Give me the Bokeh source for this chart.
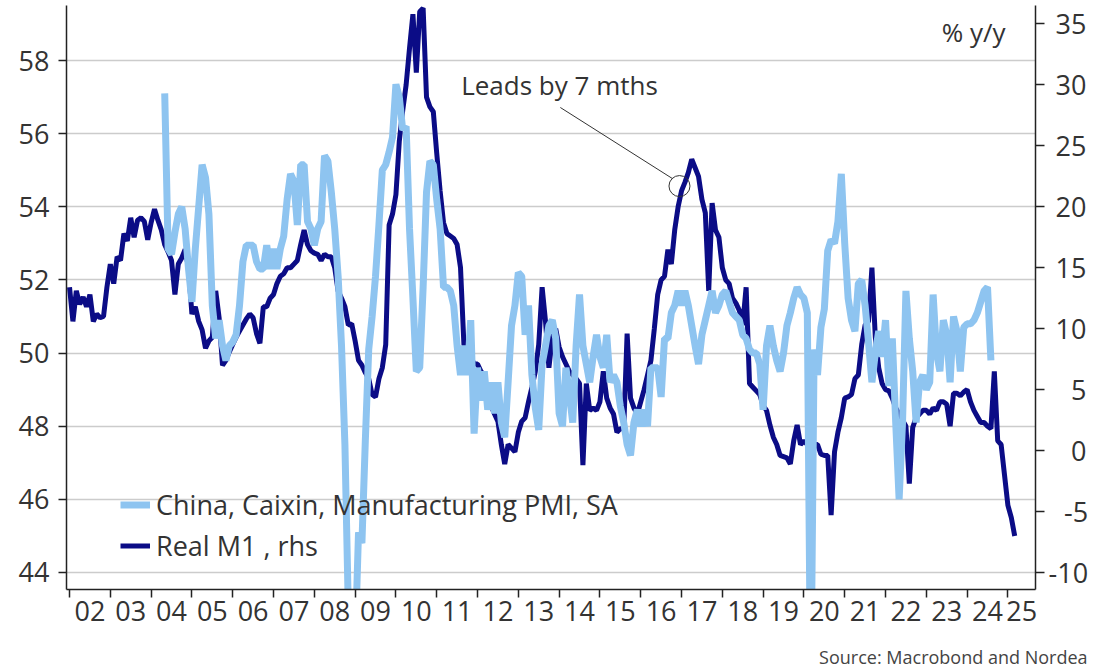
from bokeh.plotting import figure
from bokeh.models import (Range1d, LinearAxis, FixedTicker, Label, Legend, LegendItem,
                          Arrow, ColumnDataSource, Title)
from bokeh.embed import file_html
from bokeh.resources import INLINE

# ---------------- data (monthly, plotted at month end) ----------------
pmi_name = "China, Caixin, Manufacturing PMI, SA"
m1_name = "Real M1 , rhs"
pmi_start = (2004, 4)
pmi_values = [
    57.1, 52.85, 52.7, 53.3, 53.8, 54.0, 53.4, 52.3, 51.4, 52.85, 54.0, 55.15,
    54.8, 53.8, 51.3, 50.4, 50.9, 50.2, 49.8, 50.2, 50.3, 50.5, 51.3, 52.5,
    52.95, 52.95, 52.95, 52.5, 52.3, 52.3, 52.95, 52.3, 52.85, 52.3, 52.85, 53.2,
    54.2, 54.9, 54.7, 53.5, 55.15, 55.15, 53.6, 53.4, 52.95, 53.4, 53.6, 55.4,
    55.25, 54.4, 53.4, 52.1, 50.2, 47.5, 43.0, 40.9, 42.0, 45.1, 44.8, 47.6,
    50.1, 51.0, 52.1, 53.5, 55.0, 55.15, 55.5, 55.9, 57.35, 57.0, 56.1, 56.2,
    53.4, 51.5, 49.5, 49.6, 51.8, 54.4, 55.25, 55.15, 54.2, 53.4, 51.8, 51.8,
    51.7, 51.3, 50.2, 49.4, 50.2, 49.4, 50.9, 47.8, 49.6, 48.7, 49.5, 48.45,
    49.2, 48.35, 49.2, 48.1, 47.7, 49.2, 50.75, 51.3, 52.2, 52.1, 50.5, 51.3,
    49.4, 48.5, 47.9, 49.7, 50.2, 50.75, 50.9, 50.4, 48.35, 48.0, 49.6, 48.9,
    48.1, 50.2, 51.6, 50.2, 49.7, 49.2, 49.9, 50.5, 49.9, 49.6, 50.5, 49.2,
    49.4, 49.2, 48.55, 48.1, 47.5, 47.2, 48.1, 48.45, 48.0, 48.45, 48.0, 49.6,
    49.6, 49.6, 48.8, 50.4, 50.4, 51.1, 51.3, 51.7, 51.3, 51.7, 51.3, 50.75,
    50.2, 49.7, 50.5, 50.9, 51.3, 51.7, 51.1, 51.3, 51.6, 51.7, 51.4, 51.1,
    51.0, 50.9, 50.5, 50.4, 50.1, 50.0, 50.0, 49.7, 48.45, 50.2, 50.75, 50.2,
    49.8, 49.5, 50.0, 50.75, 51.1, 51.5, 51.8, 51.6, 51.5, 51.1, 40.3, 50.1,
    49.4, 50.7, 51.2, 52.8, 53.1, 53.0, 53.6, 54.9, 53.0, 51.5, 50.9, 50.6,
    51.9, 52.0, 51.3, 50.3, 49.2, 50.0, 50.6, 49.9, 50.9, 49.1, 50.4, 48.1,
    46.0, 48.1, 51.7, 50.4, 49.5, 48.1, 49.2, 49.4, 49.0, 49.2, 51.6, 50.0,
    49.5, 50.9, 50.5, 49.2, 51.0, 50.6, 49.5, 50.7, 50.8, 50.8, 50.9, 51.1,
    51.4, 51.7, 51.8, 49.8,
]
m1_start = (2001, 12)
m1_values = [
    13.4, 10.6, 13.1, 12.0, 12.6, 11.8, 12.8, 10.6, 11.2, 10.9, 11.0, 13.4,
    15.3, 13.7, 15.9, 15.6, 17.8, 17.2, 19.1, 17.5, 18.9, 19.1, 18.8, 17.3,
    18.7, 19.8, 18.9, 18.1, 16.9, 16.3, 15.6, 12.8, 15.3, 15.8, 16.5, 15.0,
    11.2, 11.8, 10.6, 9.9, 8.4, 9.0, 9.3, 13.1, 10.9, 7.0, 7.4, 8.1,
    8.7, 9.3, 9.8, 10.3, 10.8, 11.2, 10.9, 9.6, 8.8, 11.8, 11.8, 12.5,
    12.8, 13.7, 14.3, 14.5, 15.0, 15.0, 15.3, 15.6, 16.9, 18.1, 16.9, 16.4,
    16.2, 16.1, 15.6, 16.1, 15.9, 15.9, 15.0, 13.1, 12.5, 11.8, 10.3, 10.4,
    9.0, 7.4, 7.0, 6.4, 5.9, 4.6, 4.4, 5.9, 6.8, 8.7, 18.5, 19.4,
    21.0, 25.4, 27.9, 30.0, 33.0, 35.8, 31.0, 36.0, 36.3, 29.0, 28.2, 27.8,
    24.4, 21.3, 18.7, 17.8, 17.6, 17.4, 16.9, 15.0, 8.7, 8.1, 7.7, 7.1,
    7.1, 6.5, 6.2, 4.5, 3.7, 3.0, 2.4, 0.5, -1.1, 0.5, 0.2, -0.1,
    1.5, 2.4, 2.7, 4.0, 5.2, 6.5, 8.7, 13.4, 10.6, 6.8, 9.3, 10.0,
    8.5, 7.7, 7.1, 6.5, 6.2, 5.9, 5.5, -1.2, 5.5, 3.3, 3.5, 3.3,
    4.0, 6.5, 4.3, 3.5, 3.0, 1.5, 1.8, 1.8, 9.6, 4.3, 3.5, 3.0,
    4.0, 5.0, 6.2, 7.4, 10.0, 12.8, 14.0, 14.3, 16.5, 15.3, 18.1, 20.0,
    21.3, 22.0, 22.8, 23.9, 23.2, 22.5, 20.6, 19.5, 13.1, 20.3, 18.1, 17.5,
    15.0, 14.0, 13.7, 12.5, 12.1, 11.5, 10.3, 13.4, 5.5, 5.2, 4.9, 4.6,
    3.7, 3.3, 2.1, 1.1, 0.5, -0.4, -0.5, -0.6, -1.1, 0.8, 2.1, 0.5,
    0.8, 0.5, 0.6, 0.5, 0.5, -0.3, -0.4, -0.4, -5.3, -0.1, 1.5, 2.7,
    4.3, 4.4, 4.6, 5.9, 6.2, 8.7, 10.3, 10.6, 15.0, 9.3, 6.8, 5.5,
    5.0, 4.9, 4.3, 3.5, 3.0, 2.5, 2.0, -2.7, 1.9, 2.7, 3.0, 3.3,
    3.3, 3.0, 3.5, 3.3, 4.0, 4.0, 3.8, 2.0, 4.7, 4.7, 4.5, 4.8,
    5.0, 4.0, 3.3, 2.8, 2.3, 2.3, 2.0, 1.8, 6.5, 0.8, 0.5, -2.0,
    -4.5, -5.5, -7.0,
]
year_labels = ["02", "03", "04", "05", "06", "07", "08", "09", "10", "11", "12", "13",
               "14", "15", "16", "17", "18", "19", "20", "21", "22", "23", "24", "25"]
left_ticks = [44, 46, 48, 50, 52, 54, 56, 58]
right_ticks = [-10, -5, 0, 5, 10, 15, 20, 25, 30, 35]
annotation_text = "Leads by 7 mths"
unit_text = "% y/y"
source_text = "Source: Macrobond and Nordea"


def month_end_years(start, n):
    y, m = start
    return [y + (m + i) / 12.0 for i in range(n)]


pmi_x = month_end_years(pmi_start, len(pmi_values))
m1_x = month_end_years(m1_start, len(m1_values))

# ---------------- styling ----------------
LIGHT = "#8ec4f0"
DARK = "#0b0c86"
TXT = "#333333"
AX = "#222222"
FONT = "Open Sans"
FS = "27px"

X0, X1 = 2001.926, 2025.676
Y0, Y1 = 43.535, 59.504


def pmi_to_m1(v):
    return 3.0 * v - 142.0


p = figure(width=1100, height=670, output_backend="svg", toolbar_location=None,
           x_range=Range1d(X0, X1), y_range=Range1d(Y0, Y1),
           min_border_left=66, min_border_right=65, min_border_top=5,
           min_border_bottom=81)
p.extra_y_ranges = {"m1": Range1d(pmi_to_m1(Y0), pmi_to_m1(Y1))}
p.outline_line_color = None
p.background_fill_color = "white"
p.border_fill_color = "white"

# x axis: labels mid-year, tick marks at year boundaries
first_year = 2002
label_pos = [first_year + i + 0.5 for i in range(len(year_labels) - 1)]
last_year = first_year + len(year_labels) - 1
label_pos.append((last_year + X1) / 2.0)
year_starts = [first_year + i for i in range(len(year_labels))]
xa = p.xaxis[0]
xa.ticker = FixedTicker(ticks=label_pos, minor_ticks=year_starts)
xa.major_label_overrides = {pos: lab for pos, lab in zip(label_pos, year_labels)}
xa.major_tick_line_color = None
xa.minor_tick_out = 8
xa.minor_tick_in = 0
xa.minor_tick_line_color = AX
xa.minor_tick_line_width = 1.5
xa.axis_line_color = AX
xa.axis_line_width = 1.5
xa.major_label_text_font = FONT
xa.major_label_text_font_size = FS
xa.major_label_text_color = TXT
xa.major_label_standoff = 3

ya = p.yaxis[0]
ya.ticker = FixedTicker(ticks=left_ticks)
ya.major_tick_out = 8
ya.major_tick_in = 0
ya.minor_tick_line_color = None
ya.major_tick_line_color = AX
ya.major_tick_line_width = 1.5
ya.axis_line_color = AX
ya.axis_line_width = 1.5
ya.major_label_text_font = FONT
ya.major_label_text_font_size = FS
ya.major_label_text_color = TXT
ya.major_label_standoff = 9

# right axis: labels padded with figure/punctuation spaces so they line up on the right
FIG_SP = "\u2007"
PUN_SP = "\u2008"


def right_label(t):
    s = str(int(t)).replace("\u2212", "-")
    digits = len(s.lstrip("-"))
    pad = FIG_SP * (2 - digits) + ("" if s.startswith("-") else PUN_SP)
    return pad + s


ra = LinearAxis(y_range_name="m1", ticker=FixedTicker(ticks=right_ticks))
ra.major_label_overrides = {t: right_label(t) for t in right_ticks}
ra.major_tick_out = 9
ra.major_tick_in = 0
ra.minor_tick_line_color = None
ra.major_tick_line_color = AX
ra.major_tick_line_width = 1.5
ra.axis_line_color = AX
ra.axis_line_width = 1.5
ra.major_label_text_font = FONT
ra.major_label_text_font_size = FS
ra.major_label_text_color = TXT
ra.major_label_standoff = 4
p.add_layout(ra, "right")

p.xgrid.visible = False
p.ygrid.ticker = FixedTicker(ticks=left_ticks)
p.ygrid.grid_line_color = "#cccccc"
p.ygrid.grid_line_width = 1.5

# series
src_m1 = ColumnDataSource(dict(x=m1_x, y=m1_values))
src_pmi = ColumnDataSource(dict(x=pmi_x, y=pmi_values))
r_m1 = p.line("x", "y", source=src_m1, y_range_name="m1", line_color=DARK, line_width=5)
r_pmi = p.line("x", "y", source=src_pmi, line_color=LIGHT, line_width=7)

legend = Legend(items=[LegendItem(label=pmi_name, renderers=[r_pmi]),
                       LegendItem(label=m1_name, renderers=[r_m1])],
                location=(54, 25), padding=0, margin=0, spacing=4,
                glyph_width=30, glyph_height=37, label_height=37,
                label_standoff=6, label_text_font=FONT, label_text_font_size=FS,
                label_text_color=TXT, background_fill_alpha=0,
                border_line_color=None)
p.add_layout(legend, "center")

# annotation
p.add_layout(Label(x=2014.01, y=57.32, text=annotation_text, text_align="center",
                   text_baseline="middle", text_font=FONT, text_font_size="26px",
                   text_color=TXT))
p.add_layout(Arrow(end=None, x_start=2014.03, y_start=56.715, x_end=2016.78, y_end=54.77,
                   line_color="#333333", line_width=1))
p.scatter(x=[2016.95], y=[21.7], y_range_name="m1", marker="circle", size=21,
          fill_alpha=0, line_color="#333333", line_width=1)

p.add_layout(Label(x=2024.94, y=58.766, text=unit_text, text_align="right",
                   text_baseline="middle", text_font=FONT, text_font_size="26px",
                   text_color=TXT))

# small spacer panel so that the source line sits near the bottom edge
p.add_layout(Title(text=" ", text_font_size="1px", standoff=16), "below")
p.add_layout(Title(text=source_text, align="right", offset=-52, standoff=0,
                   text_font=FONT, text_font_size="18px", text_font_style="normal",
                   text_color="#444444"), "below")

open("out.html", "w").write(file_html(p, INLINE))
